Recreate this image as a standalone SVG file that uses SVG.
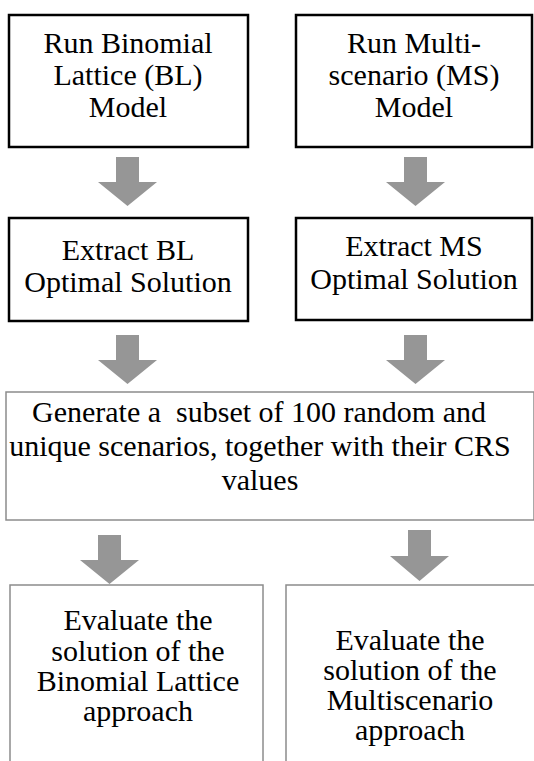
<svg xmlns="http://www.w3.org/2000/svg" width="534" height="761" viewBox="0 0 534 761">
<style>
.bx{fill:#fff;stroke:#000;stroke-width:2.5}
.gb{fill:#fff;stroke:#8c8c8c;stroke-width:1.5}
.t{font-family:"Liberation Serif","Times New Roman",serif;font-size:30px;fill:#000;text-anchor:middle}
.ar{fill:#969696}
</style>
<rect width="534" height="761" fill="#fff"/>
<g id="connectors">
<polygon class="ar" points="116,157 139,157 139,182 157,182 127.5,206 98,182 116,182"/>
<polygon class="ar" points="404,157 427,157 427,182 445,182 415.5,206 386,182 404,182"/>
<polygon class="ar" points="116,335 139,335 139,360 157,360 127.5,384 98,360 116,360"/>
<polygon class="ar" points="404,335 427,335 427,360 445,360 415.5,384 386,360 404,360"/>
<polygon class="ar" points="98,535 121,535 121,560 139,560 109.5,584 80,560 98,560"/>
<polygon class="ar" points="408,530 431,530 431,556 449,556 419.5,581 390,556 408,556"/>
</g>
<g id="n1">
<rect class="bx" x="9" y="15" width="239" height="132"/>
<text class="t"><tspan x="128" y="53">Run Binomial</tspan><tspan x="128" y="85">Lattice (BL)</tspan><tspan x="128" y="117">Model</tspan></text>
</g>
<g id="n2">
<rect class="bx" x="296" y="15" width="236" height="132"/>
<text class="t"><tspan x="414" y="53">Run Multi-</tspan><tspan x="414" y="85">scenario (MS)</tspan><tspan x="414" y="117">Model</tspan></text>
</g>
<g id="n3">
<rect class="bx" x="9" y="218" width="239" height="103"/>
<text class="t"><tspan x="128" y="260">Extract BL</tspan><tspan x="128" y="292">Optimal Solution</tspan></text>
</g>
<g id="n4">
<rect class="bx" x="296" y="218" width="236" height="102"/>
<text class="t"><tspan x="414" y="256">Extract MS</tspan><tspan x="414" y="289">Optimal Solution</tspan></text>
</g>
<g id="n5">
<rect class="gb" x="6" y="392" width="528" height="128"/>
<text class="t"><tspan x="259" y="422">Generate a&#160; subset of 100 random and</tspan><tspan x="260" y="456">unique scenarios, together with their CRS</tspan><tspan x="260" y="490">values</tspan></text>
</g>
<g id="n6">
<rect class="gb" x="10" y="585" width="253" height="190"/>
<text class="t"><tspan x="138" y="630">Evaluate the</tspan><tspan x="138" y="661">solution of the</tspan><tspan x="138" y="691">Binomial Lattice</tspan><tspan x="138" y="721">approach</tspan></text>
</g>
<g id="n7">
<rect class="gb" x="286" y="585" width="260" height="190"/>
<text class="t"><tspan x="410" y="650">Evaluate the</tspan><tspan x="410" y="680">solution of the</tspan><tspan x="410" y="710">Multiscenario</tspan><tspan x="410" y="740">approach</tspan></text>
</g>
</svg>
